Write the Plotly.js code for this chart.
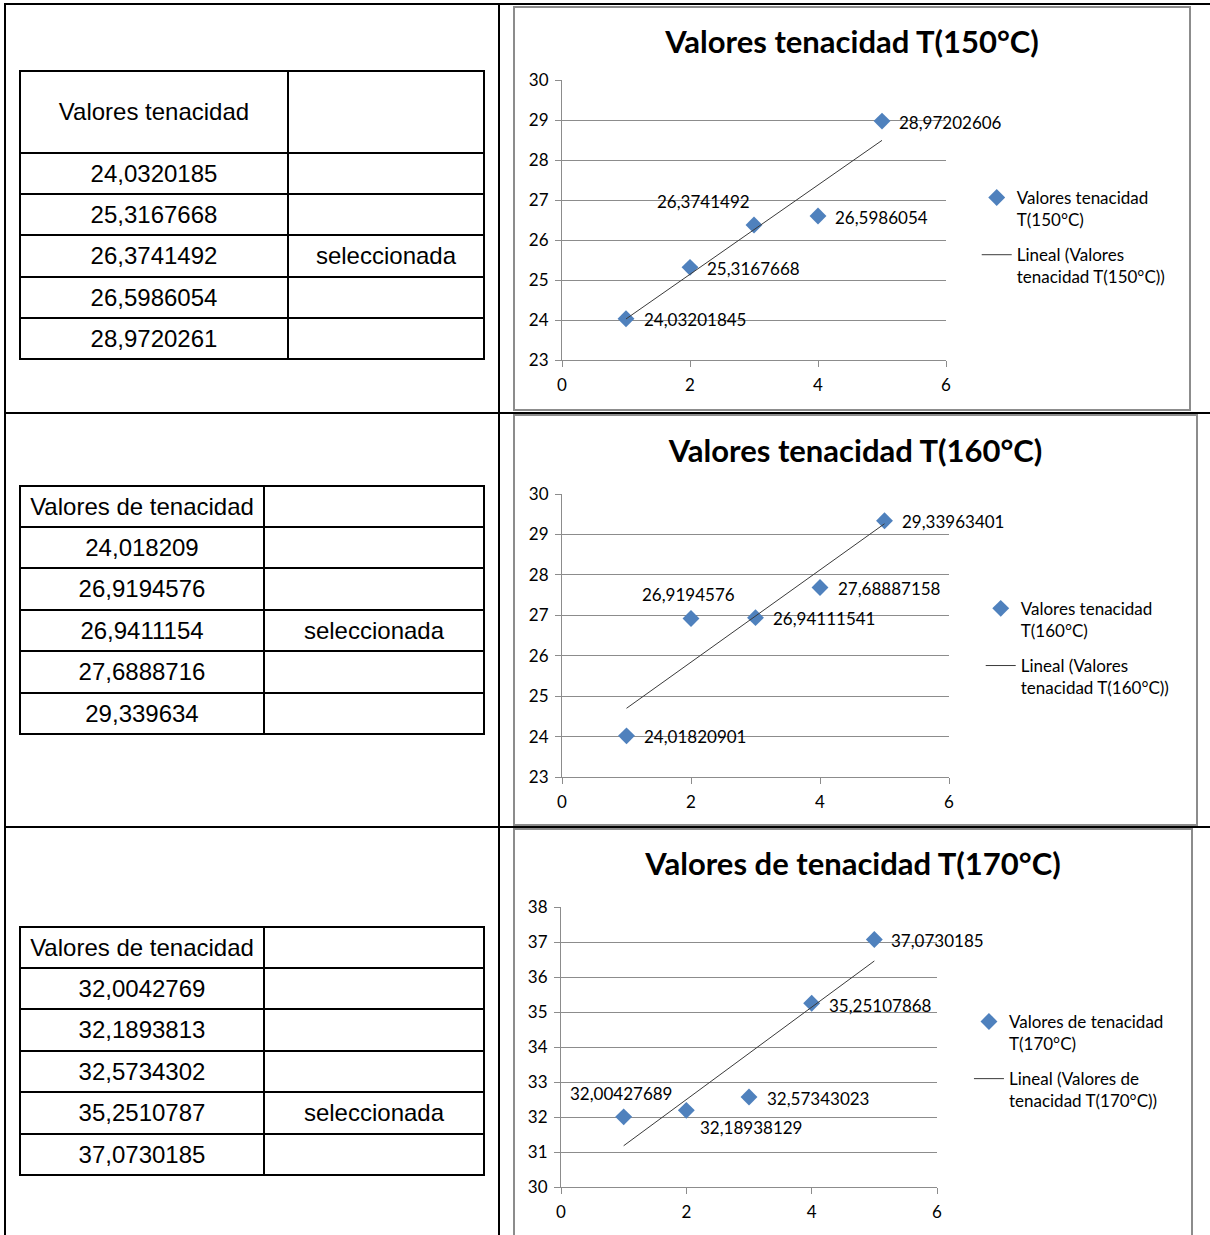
<!DOCTYPE html>
<html>
<head>
<meta charset="utf-8">
<script src="https://cdn.plot.ly/plotly-3.0.1.min.js"></script>
<style>
  html, body { margin:0; padding:0; background:#fff; }
  #page { position:relative; width:1210px; height:1235px; overflow:hidden; background:#fff; }
  .bl { position:absolute; background:#000; }
  .cell { position:absolute; box-sizing:border-box; border-right:2px solid #000; border-bottom:2px solid #000;
          display:flex; align-items:center; justify-content:center;
          font-family:"Liberation Sans", Arial, sans-serif; font-size:24px; color:#000; white-space:nowrap; }
  .tbl { position:absolute; box-sizing:border-box; border-top:2px solid #000; border-left:2px solid #000; }
  .chartbox { position:absolute; box-sizing:border-box; border:2px solid #8c8c8c; background:#fff; }
</style>
</head>
<body>
<div id="page">
  <div class="bl" style="left:4px;top:3px;width:1206px;height:2px"></div>
  <div class="bl" style="left:4px;top:3px;width:2px;height:1232px"></div>
  <div class="bl" style="left:498px;top:3px;width:2px;height:1232px"></div>
  <div class="bl" style="left:4px;top:412px;width:1206px;height:2px"></div>
  <div class="bl" style="left:4px;top:826px;width:1206px;height:2px"></div>
  <div id="tablas"></div>
  <div class="chartbox" style="left:513px;top:6px;width:678px;height:405px"><div id="g150"></div></div>
  <div class="chartbox" style="left:513px;top:414px;width:685px;height:412px"><div id="g160"></div></div>
  <div class="chartbox" style="left:513px;top:828px;width:680px;height:412px"><div id="g170"></div></div>
</div>
<script>
// ---------------- DATA ----------------
const puntos = [1, 2, 3, 4, 5];

const serie150 = [24.03201845, 25.3167668, 26.3741492, 26.5986054, 28.97202606];
const serie160 = [24.01820901, 26.9194576, 26.94111541, 27.68887158, 29.33963401];
const serie170 = [32.00427689, 32.18938129, 32.57343023, 35.25107868, 37.0730185];

const tabla150 = [24.0320185, 25.3167668, 26.3741492, 26.5986054, 28.9720261];
const tabla160 = [24.018209, 26.9194576, 26.9411154, 27.6888716, 29.339634];
const tabla170 = [32.0042769, 32.1893813, 32.5734302, 35.2510787, 37.0730185];

const encabezado150 = "Valores tenacidad";
const encabezado160 = "Valores de tenacidad";
const encabezado170 = "Valores de tenacidad";
const seleccion150 = 2, seleccion160 = 2, seleccion170 = 3;
const marcaSeleccion = "seleccionada";

const titulo150 = "Valores tenacidad T(150°C)";
const titulo160 = "Valores tenacidad T(160°C)";
const titulo170 = "Valores de tenacidad T(170°C)";
const leyendaSerie150 = "Valores tenacidad<br>T(150°C)";
const leyendaSerie160 = "Valores tenacidad<br>T(160°C)";
const leyendaSerie170 = "Valores de tenacidad<br>T(170°C)";
const leyendaLineal150 = "Lineal (Valores<br>tenacidad T(150°C))";
const leyendaLineal160 = "Lineal (Valores<br>tenacidad T(160°C))";
const leyendaLineal170 = "Lineal (Valores de<br>tenacidad T(170°C))";

const rangoY150 = [23, 30], rangoY160 = [23, 30], rangoY170 = [30, 38];
const rangoX = [0, 6];

// ---------------- helpers ----------------
const coma = v => String(v).replace('.', ',');

function tabla(cfg, encabezado, valores, sel) {
  const wrap = document.createElement('div');
  wrap.className = 'tbl';
  const totalW = cfg.cols[0] + cfg.cols[1];
  const bottoms = [cfg.headH];
  for (let k = 1; k <= valores.length; k++) bottoms.push(cfg.headH + Math.round(k * cfg.rowH));
  wrap.style.left = cfg.left + 'px';
  wrap.style.top = cfg.top + 'px';
  wrap.style.width = (totalW + 2) + 'px';
  wrap.style.height = (bottoms[bottoms.length - 1] + 2) + 'px';
  const filas = [[encabezado, '']].concat(valores.map((v, i) => [coma(v), i === sel ? marcaSeleccion : '']));
  filas.forEach((f, r) => {
    const y0 = r === 0 ? 0 : bottoms[r - 1];
    const h = bottoms[r] - y0;
    let x0 = 0;
    f.forEach((t, c) => {
      const d = document.createElement('div');
      d.className = 'cell';
      d.style.left = x0 + 'px';
      d.style.top = y0 + 'px';
      d.style.width = cfg.cols[c] + 'px';
      d.style.height = h + 'px';
      d.textContent = t;
      wrap.appendChild(d);
      x0 += cfg.cols[c];
    });
  });
  document.getElementById('tablas').appendChild(wrap);
}

tabla({left: 19, top: 70, cols: [268, 196], headH: 82, rowH: 41.2}, encabezado150, tabla150, seleccion150);
tabla({left: 19, top: 485, cols: [244, 220], headH: 41, rowH: 41.4}, encabezado160, tabla160, seleccion160);
tabla({left: 19, top: 926, cols: [244, 220], headH: 41, rowH: 41.4}, encabezado170, tabla170, seleccion170);

function ajusteLineal(x, y) {
  const n = x.length;
  const mx = x.reduce((a, b) => a + b, 0) / n;
  const my = y.reduce((a, b) => a + b, 0) / n;
  let sxy = 0, sxx = 0;
  for (let i = 0; i < n; i++) { sxy += (x[i] - mx) * (y[i] - my); sxx += (x[i] - mx) ** 2; }
  const m = sxy / sxx, b = my - m * mx;
  const xs = [x[0], x[n - 1]];
  return {x: xs, y: xs.map(v => m * v + b)};
}

const FONT = 'Lato, "Open Sans", sans-serif';
const GRIS = '#8c8c8c';
const AZUL = '#4F81BD';

function grafico(id, s) {
  const fit = ajusteLineal(puntos, s.valores);
  const traces = [
    {x: puntos, y: s.valores, type: 'scatter', mode: 'markers', name: s.leyendaSerie, legendgroup: 'serie',
     marker: {symbol: 'diamond', size: 13, color: AZUL, line: {width: 0}}, cliponaxis: false},
    {x: fit.x, y: fit.y, type: 'scatter', mode: 'lines', name: s.leyendaLineal, legendgroup: 'lineal',
     line: {color: '#3a3a3a', width: 1}}
  ];
  const annotations = s.valores.map((v, i) => ({
    x: puntos[i], y: v, xref: 'x', yref: 'y', text: coma(v), showarrow: false,
    xanchor: s.pos[i][0], yanchor: 'middle', xshift: s.pos[i][1], yshift: s.pos[i][2],
    font: {family: FONT, size: 17, color: '#000'}
  }));
  const layout = {
    width: s.w, height: s.h,
    margin: {l: s.m[0], r: s.m[1], t: s.m[2], b: s.m[3], pad: 0},
    paper_bgcolor: '#fff', plot_bgcolor: '#fff',
    font: {family: FONT, size: 17, color: '#000'},
    title: {text: s.titulo, xref: 'container', x: 0.5, xanchor: 'center',
            yref: 'container', y: s.tituloY, yanchor: 'middle',
            font: {family: FONT, size: 31, weight: 'bold', color: '#000'}},
    xaxis: {range: rangoX, tick0: 0, dtick: 2, showgrid: false, zeroline: false,
            showline: true, linecolor: GRIS, linewidth: 1, ticks: 'outside', ticklen: 6,
            tickcolor: GRIS, tickwidth: 1, ticklabelstandoff: 4,
            tickfont: {family: FONT, size: 17, color: '#000'}},
    yaxis: {range: s.rangoY, tick0: s.rangoY[0], dtick: 1, showgrid: true, gridcolor: GRIS, gridwidth: 1,
            zeroline: false, showline: true, linecolor: GRIS, linewidth: 1, ticks: 'outside', ticklen: 6,
            tickcolor: GRIS, tickwidth: 1, ticklabelstandoff: 3,
            tickfont: {family: FONT, size: 17, color: '#000'}},
    showlegend: true,
    legend: {x: s.leg[0], y: s.leg[1], xanchor: 'left', yanchor: 'top', valign: 'top',
             bgcolor: 'rgba(0,0,0,0)', borderwidth: 0, tracegroupgap: 10,
             font: {family: FONT, size: 17, color: '#000'}},
    annotations: annotations
  };
  Plotly.newPlot(id, traces, layout, {staticPlot: true, displayModeBar: false});
}

grafico('g150', {valores: serie150, titulo: titulo150, leyendaSerie: leyendaSerie150, leyendaLineal: leyendaLineal150,
  rangoY: rangoY150, w: 674, h: 401, m: [47, 243, 72, 49], tituloY: 1 - 34 / 401, leg: [1.08, 0.643],
  pos: [['left', 16, -1], ['left', 15, -1], ['center', -51, 24], ['left', 15, -1], ['left', 15, -1]]});
grafico('g160', {valores: serie160, titulo: titulo160, leyendaSerie: leyendaSerie160, leyendaLineal: leyendaLineal160,
  rangoY: rangoY160, w: 681, h: 408, m: [47, 247, 78, 47], tituloY: 1 - 35 / 408, leg: [1.082, 0.658],
  pos: [['left', 15, -1], ['center', -3, 24], ['left', 15, -1], ['left', 16, -1], ['left', 15, -1]]});
grafico('g170', {valores: serie170, titulo: titulo170, leyendaSerie: leyendaSerie170, leyendaLineal: leyendaLineal170,
  rangoY: rangoY170, w: 676, h: 408, m: [46, 254, 77, 51], tituloY: 1 - 34 / 408, leg: [1.085, 0.654],
  pos: [['center', -3, 23], ['left', 12, -17], ['left', 16, -2], ['left', 15, -2], ['left', 15, -1]]});
</script>
</body>
</html>
